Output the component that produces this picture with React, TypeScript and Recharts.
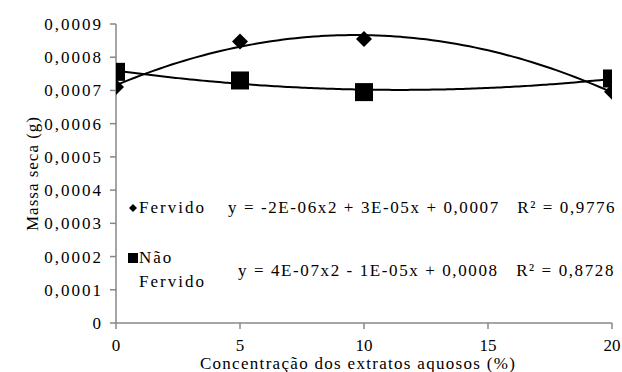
import React from 'react';
import { ComposedChart, Line, Scatter, XAxis, YAxis, Legend } from 'recharts';

const concentrations = [0, 5, 10, 20];
const fervido = [0.00071, 0.000847, 0.000855, 0.000696];
const naoFervido = [0.000756, 0.00073, 0.000695, 0.000736];
const xTicks = [0, 5, 10, 15, 20];
const yTicks = [0, 0.0001, 0.0002, 0.0003, 0.0004, 0.0005, 0.0006, 0.0007, 0.0008, 0.0009];
const seriesNames = ['Fervido', 'Não Fervido'];
const equations = [
  'y = -2E-06x2 + 3E-05x + 0,0007   R² = 0,9776',
  'y = 4E-07x2 - 1E-05x + 0,0008   R² = 0,8728',
];

const FONT = 'Liberation Serif';
const AXIS = '#878787';

// least squares quadratic fit, like the spreadsheet's polynomial trendline
const fitQuadratic = (xs: number[], ys: number[]) => {
  const s = [0, 0, 0, 0, 0];
  const t = [0, 0, 0];
  xs.forEach((x, i) => {
    for (let k = 0; k < 5; k++) s[k] += Math.pow(x, k);
    for (let k = 0; k < 3; k++) t[k] += Math.pow(x, k) * ys[i];
  });
  const m = [
    [s[0], s[1], s[2], t[0]],
    [s[1], s[2], s[3], t[1]],
    [s[2], s[3], s[4], t[2]],
  ];
  for (let c = 0; c < 3; c++) {
    for (let r = c + 1; r < 3; r++) {
      const f = m[r][c] / m[c][c];
      for (let k = c; k < 4; k++) m[r][k] -= f * m[c][k];
    }
  }
  const coef = [0, 0, 0];
  for (let r = 2; r >= 0; r--) {
    let v = m[r][3];
    for (let k = r + 1; k < 3; k++) v -= m[r][k] * coef[k];
    coef[r] = v / m[r][r];
  }
  return coef; // c0 + c1 x + c2 x^2
};

const trendOf = (ys: number[]) => {
  const [c0, c1, c2] = fitQuadratic(concentrations, ys);
  const pts = [];
  for (let x = 0; x <= 20; x += 0.25) pts.push({ x, y: c0 + c1 * x + c2 * x * x });
  return pts;
};

const toPoints = (ys: number[]) => concentrations.map((x, i) => ({ x, y: ys[i] }));

const Diamond = (props: any) => {
  const { cx, cy } = props;
  return <polygon points={`${cx},${cy - 8} ${cx + 8},${cy} ${cx},${cy + 8} ${cx - 8},${cy}`} fill="#000" />;
};

const Square = (props: any) => {
  const { cx, cy } = props;
  return <rect x={cx - 9} y={cy - 9} width={18} height={18} fill="#000" />;
};

const fmtY = (v: number) => (v === 0 ? '0' : v.toFixed(4).replace('.', ','));

const LegendBox = () => (
  <div style={{ fontFamily: FONT, fontSize: 17, letterSpacing: 2, color: '#000', lineHeight: '24px' }}>
    {seriesNames.map((name, i) => (
      <div key={name} style={{ display: 'flex', alignItems: 'flex-start', marginBottom: i === 0 ? 26 : 0 }}>
        <svg width={12} height={24} style={{ flex: 'none' }}>
          {i === 0 ? (
            <polygon points="6,8 10,12 6,16 2,12" fill="#000" />
          ) : (
            <rect x={1} y={7} width={10} height={10} fill="#000" />
          )}
        </svg>
        <span style={{ width: 76, textAlign: 'left' }}>{name}</span>
      </div>
    ))}
  </div>
);

const YTitle = (props: any) => {
  const { viewBox } = props;
  const x = viewBox.x + 38;
  const y = viewBox.y + viewBox.height / 2;
  return (
    <text x={x} y={y} transform={`rotate(-90 ${x} ${y})`} textAnchor="middle" fontFamily={FONT} fontSize={17} letterSpacing={1} fill="#000">
      Massa seca (g)
    </text>
  );
};

const XTitle = (props: any) => {
  const { viewBox } = props;
  return (
    <text x={viewBox.x + viewBox.width / 2 - 6} y={viewBox.y + 46} textAnchor="middle" fontFamily={FONT} fontSize={17} letterSpacing={1.3} fill="#000">
      Concentração dos extratos aquosos (%)
    </text>
  );
};

export default function App() {
  const xTickStyle = { fontFamily: FONT, fontSize: 17, fill: '#000' };
  const yTickStyle = { fontFamily: FONT, fontSize: 17, fill: '#000', letterSpacing: 2 };
  const eqStyle: React.CSSProperties = { position: 'absolute', fontFamily: FONT, fontSize: 17, letterSpacing: 1.6, lineHeight: '24px', whiteSpace: 'pre', color: '#000' };
  return (
    <div style={{ position: 'absolute', left: 0, top: 0, width: 622, height: 372, background: '#fff' }}>
      <ComposedChart width={622} height={372} margin={{ top: 24, right: 10, bottom: 0, left: 0 }}>
        <XAxis
          type="number"
          dataKey="x"
          domain={[0, 20]}
          ticks={xTicks}
          height={49}
          stroke={AXIS}
          strokeWidth={1.5}
          tickSize={6}
          tickMargin={10}
          tick={xTickStyle}
          label={<XTitle />}
          allowDataOverflow
        />
        <YAxis
          type="number"
          domain={[0, 0.0009]}
          ticks={yTicks}
          width={116}
          stroke={AXIS}
          strokeWidth={1.5}
          tickSize={6}
          tickMargin={7}
          tick={yTickStyle}
          tickFormatter={fmtY}
          label={<YTitle />}
          allowDataOverflow
        />
        <Legend
          layout="vertical"
          verticalAlign="middle"
          align="center"
          wrapperStyle={{ left: 127, top: 196, width: 100 }}
          content={<LegendBox />}
        />
        <Line data={trendOf(fervido)} dataKey="y" stroke="#000" strokeWidth={2} dot={false} activeDot={false} type="monotone" isAnimationActive={false} legendType="none" />
        <Line data={trendOf(naoFervido)} dataKey="y" stroke="#000" strokeWidth={2} dot={false} activeDot={false} type="monotone" isAnimationActive={false} legendType="none" />
        <Scatter name={seriesNames[0]} data={toPoints(fervido)} dataKey="y" shape={<Diamond />} isAnimationActive={false} />
        <Scatter name={seriesNames[1]} data={toPoints(naoFervido)} dataKey="y" shape={<Square />} isAnimationActive={false} />
      </ComposedChart>
      <div style={{ ...eqStyle, left: 228, top: 196 }}>{equations[0]}</div>
      <div style={{ ...eqStyle, left: 238, top: 259 }}>{equations[1]}</div>
    </div>
  );
}
